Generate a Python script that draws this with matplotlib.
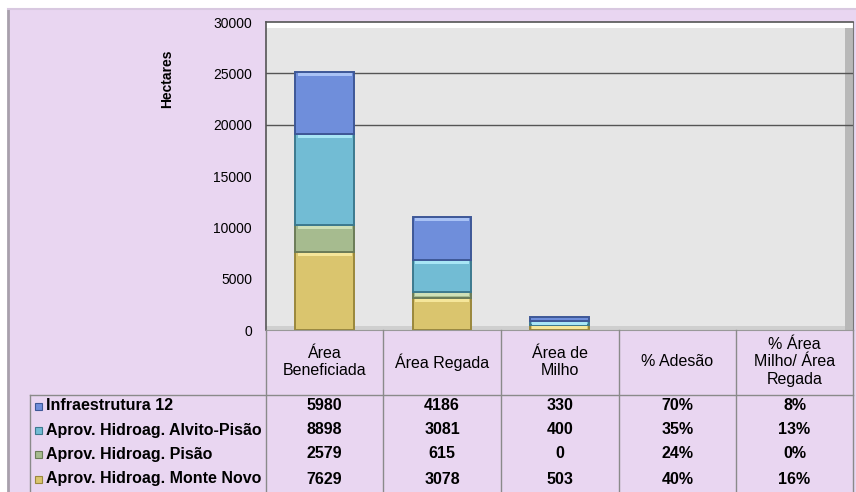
import matplotlib
matplotlib.use('Agg')
import matplotlib.pyplot as plt
from matplotlib.lines import Line2D
from matplotlib.patches import Rectangle
import numpy as np

plt.rcParams['font.family'] = ['Liberation Sans', 'DejaVu Sans']

# data
categories = ['Área\nBeneficiada', 'Área Regada', 'Área de\nMilho', '% Adesão',
              '% Área\nMilho/ Área\nRegada']
series = ['Infraestrutura 12', 'Aprov. Hidroag. Alvito-Pisão',
          'Aprov. Hidroag. Pisão', 'Aprov. Hidroag. Monte Novo']
# area columns (hectares) and percentage columns (%)
infra12 = [5980, 4186, 330, 70, 8]
alvito_pisao = [8898, 3081, 400, 35, 13]
pisao = [2579, 615, 0, 24, 0]
monte_novo = [7629, 3078, 503, 40, 16]
is_pct = [False, False, False, True, True]
yticks = [0, 5000, 10000, 15000, 20000, 25000, 30000]
grid_at = [20000, 25000]

values = [infra12, alvito_pisao, pisao, monte_novo]
colors = ['#6F8EDB', '#72BCD4', '#A6BB8F', '#DAC56E']
lights = ['#A9C2F5', '#A8E6F5', '#CFE0B8', '#F5E69A']
edges = ['#3E5897', '#3D7A8F', '#6B7C58', '#9A883C']

W, H = 856, 492
fig = plt.figure(figsize=(W / 100, H / 100), dpi=100, facecolor='white')


def fx(x):
    return x / W


def fy(y):
    return 1 - y / H


# lavender frame
fig.add_artist(Rectangle((fx(8), 0), 1, fy(9), transform=fig.transFigure,
                         facecolor='#E9D6F1', edgecolor='none', zorder=0))
fig.add_artist(Line2D([fx(8), fx(8)], [0, fy(9)], transform=fig.transFigure,
                      color='#A8A0AC', lw=2, zorder=1))
fig.add_artist(Line2D([fx(8), 1], [fy(9), fy(9)], transform=fig.transFigure,
                      color='#D8C8E0', lw=1.5, zorder=1))

left, right, top, bottom = 266, 853, 22, 330
ax = fig.add_axes([fx(left), fy(bottom), fx(right - left), (bottom - top) / H])
ax.set_facecolor('#E6E6E6')

# bevel of plot area
ax.add_patch(Rectangle((0, 0.982), 1, 0.018, transform=ax.transAxes,
                       facecolor='white', edgecolor='none', zorder=0.5))
ax.add_patch(Rectangle((0.986, 0), 0.014, 0.982, transform=ax.transAxes,
                       facecolor='#B8B8B8', edgecolor='none', zorder=0.5))
ax.add_patch(Rectangle((0, 0), 0.986, 0.012, transform=ax.transAxes,
                       facecolor='#CFCFCF', edgecolor='none', zorder=0.5))

for g in grid_at:
    ax.axhline(g, color='#555555', lw=1, zorder=1)

x = np.arange(len(categories))
bottoms = np.zeros(len(categories))
px_data = 30000 / (bottom - top)
lws = [0 if p else 1.4 for p in is_pct]
# stack from bottom: Monte Novo, Pisão, Alvito-Pisão, Infraestrutura 12
for vals, c, lc, e in zip(values[::-1], colors[::-1], lights[::-1], edges[::-1]):
    v = np.array([val / 100 if p else val for val, p in zip(vals, is_pct)], float)
    ax.bar(x, v, 0.5, bottom=bottoms, color=c, edgecolor=e, lw=lws, zorder=2)
    # highlight strip at top of each segment
    hl = np.where(v > 4 * px_data, 3 * px_data, 0)
    ax.bar(x, hl, 0.46, bottom=bottoms + v - hl - px_data, color=lc,
           lw=0, zorder=3)
    bottoms += v

ax.set_xlim(-0.5, len(categories) - 0.5)
ax.set_ylim(0, 30000)
ax.set_yticks(yticks)
ax.set_yticklabels([str(t) for t in yticks], fontsize=10)
ax.tick_params(axis='y', length=0, pad=10)
ax.set_xticks([])
for s in ['left', 'top']:
    ax.spines[s].set_color('#555555')
    ax.spines[s].set_linewidth(1.2)
ax.spines['right'].set_color('#777777')
ax.spines['bottom'].set_color('#999999')

fig.text(fx(167), fy(79), 'Hectares', rotation=90, ha='center', va='center',
         fontsize=10, fontweight='bold')

# data table below
col_edges = [266, 383, 501, 619, 736, 853]
line_c = '#8A8A8A'


def hline(x0, x1, y):
    fig.add_artist(Line2D([fx(x0), fx(x1)], [fy(y), fy(y)],
                          transform=fig.transFigure, color=line_c, lw=1))


def vline(xp, y0, y1):
    fig.add_artist(Line2D([fx(xp), fx(xp)], [fy(y0), fy(y1)],
                          transform=fig.transFigure, color=line_c, lw=1))


for xe in col_edges:
    vline(xe, bottom, H)
vline(30, 395, H)
hline(30, 853, 395)

for i, cat in enumerate(categories):
    cx = (col_edges[i] + col_edges[i + 1]) / 2
    fig.text(fx(cx), fy(362), cat, ha='center', va='center', fontsize=11.5,
             linespacing=1.2)

row_y = [406, 430, 454, 479]
for r, (name, vals, c, e) in enumerate(zip(series, values, colors, edges)):
    y = row_y[r]
    fig.add_artist(Rectangle((fx(35), fy(y + 3.5)), fx(7), 7 / H,
                             transform=fig.transFigure, facecolor=c,
                             edgecolor=e, lw=0.8))
    fig.text(fx(46), fy(y), name, ha='left', va='center', fontsize=11.5,
             fontweight='bold')
    for i, (val, p) in enumerate(zip(vals, is_pct)):
        cx = (col_edges[i] + col_edges[i + 1]) / 2
        txt = f'{val}%' if p else f'{val}'
        fig.text(fx(cx), fy(y), txt, ha='center', va='center', fontsize=11.5,
                 fontweight='bold')

fig.savefig('out.png', dpi=100, facecolor=fig.get_facecolor())
